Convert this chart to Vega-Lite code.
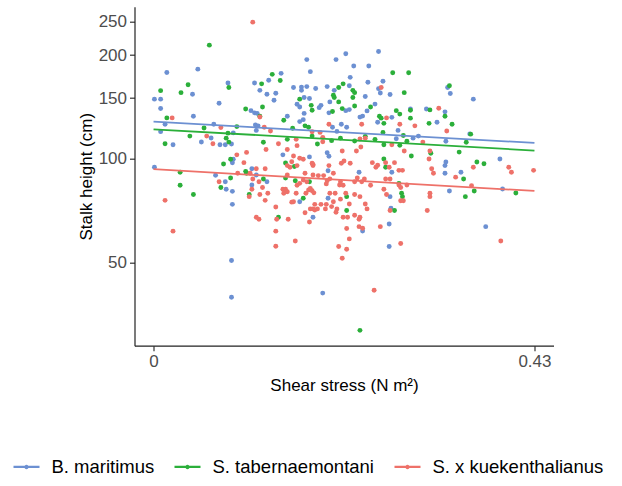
{
"$schema":"https://vega.github.io/schema/vega-lite/v6.json",
"autosize":{"type":"none"},
"padding":{"left":134.5,"top":6.7,"right":68.5,"bottom":140.3},
"width":419,"height":339,
"config":{"view":{"stroke":null},"font":"Liberation Sans",
"axis":{"grid":false,"domainColor":"#222222","domainWidth":1.2,"tickColor":"#333333","tickWidth":1.2,"tickSize":5,"labelColor":"#4D4D4D","labelFontSize":17,"labelFont":"Liberation Sans","titleFont":"Liberation Sans","titleFontSize":17,"titleFontWeight":"normal","titleColor":"black","labelPadding":3}},
"datasets":{
"fit":[
{"species":"B. maritimus","shear":0,"height":128.2},{"species":"B. maritimus","shear":0.43,"height":111.3},
{"species":"S. tabernaemontani","shear":0,"height":121.9},{"species":"S. tabernaemontani","shear":0.43,"height":105.8},
{"species":"S. x kuekenthalianus","shear":0,"height":93.4},{"species":"S. x kuekenthalianus","shear":0.43,"height":80.8}],
"pts":[
{"species":"B. maritimus","shear":0.015,"height":178},{"species":"B. maritimus","shear":0.050,"height":182},{"species":"B. maritimus","shear":0.044,"height":154},{"species":"B. maritimus","shear":0.001,"height":149},{"species":"B. maritimus","shear":0.008,"height":149},{"species":"B. maritimus","shear":0.008,"height":140},{"species":"B. maritimus","shear":0.074,"height":145},{"species":"B. maritimus","shear":0.084,"height":166},{"species":"B. maritimus","shear":0.045,"height":133},{"species":"B. maritimus","shear":0.013,"height":126},
{"species":"B. maritimus","shear":0.008,"height":120},{"species":"B. maritimus","shear":0.022,"height":110},{"species":"B. maritimus","shear":0.054,"height":112},{"species":"B. maritimus","shear":0.065,"height":115},{"species":"B. maritimus","shear":0.068,"height":126},{"species":"B. maritimus","shear":0.075,"height":110},{"species":"B. maritimus","shear":0.081,"height":110},{"species":"B. maritimus","shear":0.088,"height":110.5},{"species":"B. maritimus","shear":0.090,"height":119},{"species":"B. maritimus","shear":0.001,"height":94.6},
{"species":"B. maritimus","shear":0.090,"height":99.8},{"species":"B. maritimus","shear":0.089,"height":97.5},{"species":"B. maritimus","shear":0.111,"height":93.7},{"species":"B. maritimus","shear":0.114,"height":166},{"species":"B. maritimus","shear":0.120,"height":158},{"species":"B. maritimus","shear":0.130,"height":169},{"species":"B. maritimus","shear":0.144,"height":177},{"species":"B. maritimus","shear":0.128,"height":154},{"species":"B. maritimus","shear":0.138,"height":155},{"species":"B. maritimus","shear":0.136,"height":148},
{"species":"B. maritimus","shear":0.110,"height":138},{"species":"B. maritimus","shear":0.114,"height":136},{"species":"B. maritimus","shear":0.117,"height":135.5},{"species":"B. maritimus","shear":0.115,"height":125.5},{"species":"B. maritimus","shear":0.118,"height":124.7},{"species":"B. maritimus","shear":0.116,"height":121},{"species":"B. maritimus","shear":0.151,"height":133},{"species":"B. maritimus","shear":0.146,"height":102.8},{"species":"B. maritimus","shear":0.158,"height":161},{"species":"B. maritimus","shear":0.167,"height":161.5},
{"species":"B. maritimus","shear":0.167,"height":158},{"species":"B. maritimus","shear":0.170,"height":150.7},{"species":"B. maritimus","shear":0.176,"height":149.7},{"species":"B. maritimus","shear":0.173,"height":162},{"species":"B. maritimus","shear":0.183,"height":160},{"species":"B. maritimus","shear":0.173,"height":194},{"species":"B. maritimus","shear":0.177,"height":179},{"species":"B. maritimus","shear":0.162,"height":144},{"species":"B. maritimus","shear":0.165,"height":141.4},{"species":"B. maritimus","shear":0.170,"height":135.5},
{"species":"B. maritimus","shear":0.169,"height":130},{"species":"B. maritimus","shear":0.165,"height":128.3},{"species":"B. maritimus","shear":0.176,"height":101.4},{"species":"B. maritimus","shear":0.196,"height":162},{"species":"B. maritimus","shear":0.189,"height":143},{"species":"B. maritimus","shear":0.187,"height":140.8},{"species":"B. maritimus","shear":0.196,"height":104.2},{"species":"B. maritimus","shear":0.198,"height":101.8},{"species":"B. maritimus","shear":0.206,"height":194},{"species":"B. maritimus","shear":0.204,"height":158},
{"species":"B. maritimus","shear":0.199,"height":146.3},{"species":"B. maritimus","shear":0.198,"height":136},{"species":"B. maritimus","shear":0.202,"height":123.6},{"species":"B. maritimus","shear":0.207,"height":120.2},{"species":"B. maritimus","shear":0.217,"height":201.7},{"species":"B. maritimus","shear":0.254,"height":204.7},{"species":"B. maritimus","shear":0.226,"height":185.8},{"species":"B. maritimus","shear":0.243,"height":185.8},{"species":"B. maritimus","shear":0.222,"height":172.3},{"species":"B. maritimus","shear":0.221,"height":163},
{"species":"B. maritimus","shear":0.242,"height":166.8},{"species":"B. maritimus","shear":0.259,"height":167.9},{"species":"B. maritimus","shear":0.254,"height":159.8},{"species":"B. maritimus","shear":0.256,"height":155.2},{"species":"B. maritimus","shear":0.267,"height":153.7},{"species":"B. maritimus","shear":0.239,"height":151.7},{"species":"B. maritimus","shear":0.250,"height":144.2},{"species":"B. maritimus","shear":0.217,"height":138},{"species":"B. maritimus","shear":0.221,"height":139},{"species":"B. maritimus","shear":0.241,"height":137.8},
{"species":"B. maritimus","shear":0.233,"height":132.2},{"species":"B. maritimus","shear":0.236,"height":133.1},{"species":"B. maritimus","shear":0.253,"height":127.7},{"species":"B. maritimus","shear":0.290,"height":139.6},{"species":"B. maritimus","shear":0.308,"height":139.6},{"species":"B. maritimus","shear":0.329,"height":136.9},{"species":"B. maritimus","shear":0.320,"height":127.7},{"species":"B. maritimus","shear":0.332,"height":161},{"species":"B. maritimus","shear":0.335,"height":154.7},{"species":"B. maritimus","shear":0.361,"height":149},
{"species":"B. maritimus","shear":0.212,"height":126},{"species":"B. maritimus","shear":0.218,"height":123.6},{"species":"B. maritimus","shear":0.276,"height":121},{"species":"B. maritimus","shear":0.274,"height":114.4},{"species":"B. maritimus","shear":0.293,"height":114.9},{"species":"B. maritimus","shear":0.299,"height":116.5},{"species":"B. maritimus","shear":0.330,"height":112.5},{"species":"B. maritimus","shear":0.391,"height":100},{"species":"B. maritimus","shear":0.330,"height":98},{"species":"B. maritimus","shear":0.329,"height":95.7},
{"species":"B. maritimus","shear":0.357,"height":118.2},{"species":"B. maritimus","shear":0.269,"height":132},{"species":"B. maritimus","shear":0.329,"height":90.9},{"species":"B. maritimus","shear":0.347,"height":91.5},{"species":"B. maritimus","shear":0.334,"height":80.8},{"species":"B. maritimus","shear":0.394,"height":81.9},{"species":"B. maritimus","shear":0.375,"height":63.7},{"species":"B. maritimus","shear":0.269,"height":91.5},{"species":"B. maritimus","shear":0.232,"height":91.5},{"species":"B. maritimus","shear":0.267,"height":77.8},
{"species":"B. maritimus","shear":0.268,"height":72},{"species":"B. maritimus","shear":0.236,"height":61.9},{"species":"B. maritimus","shear":0.266,"height":64.8},{"species":"B. maritimus","shear":0.266,"height":55.8},{"species":"B. maritimus","shear":0.070,"height":89.7},{"species":"B. maritimus","shear":0.081,"height":85.9},{"species":"B. maritimus","shear":0.082,"height":81.7},{"species":"B. maritimus","shear":0.089,"height":80.6},{"species":"B. maritimus","shear":0.089,"height":73.9},{"species":"B. maritimus","shear":0.088,"height":50.8},
{"species":"B. maritimus","shear":0.088,"height":39.8},{"species":"B. maritimus","shear":0.116,"height":89.9},{"species":"B. maritimus","shear":0.111,"height":84.1},{"species":"B. maritimus","shear":0.128,"height":85.9},{"species":"B. maritimus","shear":0.149,"height":80.4},{"species":"B. maritimus","shear":0.165,"height":75.2},{"species":"B. maritimus","shear":0.180,"height":67.8},{"species":"B. maritimus","shear":0.197,"height":92.5},{"species":"B. maritimus","shear":0.197,"height":77},{"species":"B. maritimus","shear":0.191,"height":40.9},
{"species":"S. tabernaemontani","shear":0.063,"height":213.6},{"species":"S. tabernaemontani","shear":0.008,"height":157.7},{"species":"S. tabernaemontani","shear":0.039,"height":164},{"species":"S. tabernaemontani","shear":0.031,"height":155.6},{"species":"S. tabernaemontani","shear":0.085,"height":161},{"species":"S. tabernaemontani","shear":0.015,"height":131.5},{"species":"S. tabernaemontani","shear":0.013,"height":110.7},{"species":"S. tabernaemontani","shear":0.041,"height":116.5},{"species":"S. tabernaemontani","shear":0.057,"height":123},{"species":"S. tabernaemontani","shear":0.084,"height":118.8},
{"species":"S. tabernaemontani","shear":0.082,"height":114.9},{"species":"S. tabernaemontani","shear":0.085,"height":111.9},{"species":"S. tabernaemontani","shear":0.094,"height":124.1},{"species":"S. tabernaemontani","shear":0.079,"height":96.7},{"species":"S. tabernaemontani","shear":0.087,"height":99.8},{"species":"S. tabernaemontani","shear":0.122,"height":165},{"species":"S. tabernaemontani","shear":0.134,"height":175.8},{"species":"S. tabernaemontani","shear":0.143,"height":168.7},{"species":"S. tabernaemontani","shear":0.123,"height":141.4},{"species":"S. tabernaemontani","shear":0.104,"height":139.6},
{"species":"S. tabernaemontani","shear":0.124,"height":111.8},{"species":"S. tabernaemontani","shear":0.147,"height":129.4},{"species":"S. tabernaemontani","shear":0.157,"height":122.7},{"species":"S. tabernaemontani","shear":0.151,"height":114},{"species":"S. tabernaemontani","shear":0.165,"height":149},{"species":"S. tabernaemontani","shear":0.178,"height":143},{"species":"S. tabernaemontani","shear":0.179,"height":138.4},{"species":"S. tabernaemontani","shear":0.171,"height":124.7},{"species":"S. tabernaemontani","shear":0.175,"height":123.6},{"species":"S. tabernaemontani","shear":0.179,"height":116.5},
{"species":"S. tabernaemontani","shear":0.185,"height":110.5},{"species":"S. tabernaemontani","shear":0.209,"height":161},{"species":"S. tabernaemontani","shear":0.203,"height":153},{"species":"S. tabernaemontani","shear":0.204,"height":150.7},{"species":"S. tabernaemontani","shear":0.209,"height":146.3},{"species":"S. tabernaemontani","shear":0.202,"height":137.2},{"species":"S. tabernaemontani","shear":0.201,"height":113},{"species":"S. tabernaemontani","shear":0.120,"height":133},{"species":"S. tabernaemontani","shear":0.149,"height":97.4},{"species":"S. tabernaemontani","shear":0.159,"height":95.1},
{"species":"S. tabernaemontani","shear":0.214,"height":165},{"species":"S. tabernaemontani","shear":0.225,"height":158},{"species":"S. tabernaemontani","shear":0.227,"height":155.6},{"species":"S. tabernaemontani","shear":0.225,"height":150.7},{"species":"S. tabernaemontani","shear":0.270,"height":177.7},{"species":"S. tabernaemontani","shear":0.288,"height":177.7},{"species":"S. tabernaemontani","shear":0.283,"height":155.6},{"species":"S. tabernaemontani","shear":0.227,"height":142.3},{"species":"S. tabernaemontani","shear":0.245,"height":141.4},{"species":"S. tabernaemontani","shear":0.213,"height":139.9},
{"species":"S. tabernaemontani","shear":0.255,"height":133},{"species":"S. tabernaemontani","shear":0.257,"height":131.3},{"species":"S. tabernaemontani","shear":0.260,"height":126.8},{"species":"S. tabernaemontani","shear":0.274,"height":138},{"species":"S. tabernaemontani","shear":0.278,"height":134.9},{"species":"S. tabernaemontani","shear":0.290,"height":138.4},{"species":"S. tabernaemontani","shear":0.290,"height":131.3},{"species":"S. tabernaemontani","shear":0.312,"height":138.7},{"species":"S. tabernaemontani","shear":0.329,"height":133},{"species":"S. tabernaemontani","shear":0.311,"height":126.8},
{"species":"S. tabernaemontani","shear":0.337,"height":126},{"species":"S. tabernaemontani","shear":0.334,"height":163},{"species":"S. tabernaemontani","shear":0.211,"height":114.9},{"species":"S. tabernaemontani","shear":0.282,"height":117},{"species":"S. tabernaemontani","shear":0.286,"height":112.5},{"species":"S. tabernaemontani","shear":0.239,"height":116.3},{"species":"S. tabernaemontani","shear":0.250,"height":114},{"species":"S. tabernaemontani","shear":0.259,"height":119.4},{"species":"S. tabernaemontani","shear":0.260,"height":110},{"species":"S. tabernaemontani","shear":0.278,"height":109.5},
{"species":"S. tabernaemontani","shear":0.353,"height":111.8},{"species":"S. tabernaemontani","shear":0.358,"height":118},{"species":"S. tabernaemontani","shear":0.313,"height":103.9},{"species":"S. tabernaemontani","shear":0.291,"height":102},{"species":"S. tabernaemontani","shear":0.345,"height":104.7},{"species":"S. tabernaemontani","shear":0.260,"height":100},{"species":"S. tabernaemontani","shear":0.262,"height":94.6},{"species":"S. tabernaemontani","shear":0.365,"height":98},{"species":"S. tabernaemontani","shear":0.373,"height":96.9},{"species":"S. tabernaemontani","shear":0.227,"height":112.7},
{"species":"S. tabernaemontani","shear":0.350,"height":87.5},{"species":"S. tabernaemontani","shear":0.362,"height":80.8},{"species":"S. tabernaemontani","shear":0.409,"height":79.7},{"species":"S. tabernaemontani","shear":0.352,"height":77.8},{"species":"S. tabernaemontani","shear":0.277,"height":85},{"species":"S. tabernaemontani","shear":0.280,"height":79.6},{"species":"S. tabernaemontani","shear":0.281,"height":77.8},{"species":"S. tabernaemontani","shear":0.272,"height":70.9},{"species":"S. tabernaemontani","shear":0.218,"height":77.8},{"species":"S. tabernaemontani","shear":0.218,"height":70.9},
{"species":"S. tabernaemontani","shear":0.233,"height":31.9},{"species":"S. tabernaemontani","shear":0.030,"height":91.5},{"species":"S. tabernaemontani","shear":0.030,"height":83.9},{"species":"S. tabernaemontani","shear":0.045,"height":78.9},{"species":"S. tabernaemontani","shear":0.076,"height":82.7},{"species":"S. tabernaemontani","shear":0.087,"height":88.1},{"species":"S. tabernaemontani","shear":0.104,"height":92.1},{"species":"S. tabernaemontani","shear":0.105,"height":90.9},{"species":"S. tabernaemontani","shear":0.124,"height":87.5},{"species":"S. tabernaemontani","shear":0.108,"height":78.9},
{"species":"S. tabernaemontani","shear":0.141,"height":67.8},{"species":"S. tabernaemontani","shear":0.149,"height":88.1},{"species":"S. tabernaemontani","shear":0.160,"height":86.5},{"species":"S. tabernaemontani","shear":0.169,"height":77},{"species":"S. tabernaemontani","shear":0.176,"height":85.9},
{"species":"S. x kuekenthalianus","shear":0.112,"height":249},{"species":"S. x kuekenthalianus","shear":0.021,"height":131.5},{"species":"S. x kuekenthalianus","shear":0.060,"height":116.5},{"species":"S. x kuekenthalianus","shear":0.067,"height":110.7},{"species":"S. x kuekenthalianus","shear":0.076,"height":123.3},{"species":"S. x kuekenthalianus","shear":0.094,"height":102.8},{"species":"S. x kuekenthalianus","shear":0.105,"height":104.5},{"species":"S. x kuekenthalianus","shear":0.102,"height":97.6},{"species":"S. x kuekenthalianus","shear":0.116,"height":93.7},{"species":"S. x kuekenthalianus","shear":0.126,"height":93.7},
{"species":"S. x kuekenthalianus","shear":0.120,"height":132.3},{"species":"S. x kuekenthalianus","shear":0.125,"height":123.6},{"species":"S. x kuekenthalianus","shear":0.127,"height":106.5},{"species":"S. x kuekenthalianus","shear":0.141,"height":110.7},{"species":"S. x kuekenthalianus","shear":0.151,"height":106.5},{"species":"S. x kuekenthalianus","shear":0.158,"height":102},{"species":"S. x kuekenthalianus","shear":0.162,"height":109.3},{"species":"S. x kuekenthalianus","shear":0.165,"height":100.5},{"species":"S. x kuekenthalianus","shear":0.161,"height":114},{"species":"S. x kuekenthalianus","shear":0.179,"height":119.9},
{"species":"S. x kuekenthalianus","shear":0.188,"height":119.4},{"species":"S. x kuekenthalianus","shear":0.191,"height":115.5},{"species":"S. x kuekenthalianus","shear":0.191,"height":112.2},{"species":"S. x kuekenthalianus","shear":0.169,"height":99.8},{"species":"S. x kuekenthalianus","shear":0.180,"height":96.5},{"species":"S. x kuekenthalianus","shear":0.198,"height":95.7},{"species":"S. x kuekenthalianus","shear":0.198,"height":126},{"species":"S. x kuekenthalianus","shear":0.132,"height":120.5},{"species":"S. x kuekenthalianus","shear":0.151,"height":95.7},{"species":"S. x kuekenthalianus","shear":0.154,"height":94.6},
{"species":"S. x kuekenthalianus","shear":0.162,"height":95.7},{"species":"S. x kuekenthalianus","shear":0.156,"height":98.2},{"species":"S. x kuekenthalianus","shear":0.109,"height":90.9},{"species":"S. x kuekenthalianus","shear":0.257,"height":161},{"species":"S. x kuekenthalianus","shear":0.263,"height":131.5},{"species":"S. x kuekenthalianus","shear":0.278,"height":126},{"species":"S. x kuekenthalianus","shear":0.295,"height":124.7},{"species":"S. x kuekenthalianus","shear":0.322,"height":140.2},{"species":"S. x kuekenthalianus","shear":0.331,"height":120.5},{"species":"S. x kuekenthalianus","shear":0.233,"height":114.2},
{"species":"S. x kuekenthalianus","shear":0.239,"height":114.9},{"species":"S. x kuekenthalianus","shear":0.269,"height":110},{"species":"S. x kuekenthalianus","shear":0.304,"height":111.9},{"species":"S. x kuekenthalianus","shear":0.213,"height":105.5},{"species":"S. x kuekenthalianus","shear":0.229,"height":105.5},{"species":"S. x kuekenthalianus","shear":0.234,"height":108.3},{"species":"S. x kuekenthalianus","shear":0.283,"height":105.5},{"species":"S. x kuekenthalianus","shear":0.312,"height":105.5},{"species":"S. x kuekenthalianus","shear":0.311,"height":100},{"species":"S. x kuekenthalianus","shear":0.212,"height":97.2},
{"species":"S. x kuekenthalianus","shear":0.215,"height":98.7},{"species":"S. x kuekenthalianus","shear":0.222,"height":97.2},{"species":"S. x kuekenthalianus","shear":0.247,"height":97.6},{"species":"S. x kuekenthalianus","shear":0.251,"height":94.6},{"species":"S. x kuekenthalianus","shear":0.253,"height":95.9},{"species":"S. x kuekenthalianus","shear":0.262,"height":97.6},{"species":"S. x kuekenthalianus","shear":0.272,"height":97.6},{"species":"S. x kuekenthalianus","shear":0.266,"height":94.6},{"species":"S. x kuekenthalianus","shear":0.361,"height":94.6},{"species":"S. x kuekenthalianus","shear":0.401,"height":94.6},
{"species":"S. x kuekenthalianus","shear":0.314,"height":93.7},{"species":"S. x kuekenthalianus","shear":0.235,"height":126},{"species":"S. x kuekenthalianus","shear":0.404,"height":91.5},{"species":"S. x kuekenthalianus","shear":0.429,"height":92.7},{"species":"S. x kuekenthalianus","shear":0.316,"height":90.9},{"species":"S. x kuekenthalianus","shear":0.341,"height":88.6},{"species":"S. x kuekenthalianus","shear":0.359,"height":83.7},{"species":"S. x kuekenthalianus","shear":0.312,"height":79.6},{"species":"S. x kuekenthalianus","shear":0.312,"height":77.8},{"species":"S. x kuekenthalianus","shear":0.392,"height":57.9},
{"species":"S. x kuekenthalianus","shear":0.277,"height":92.7},{"species":"S. x kuekenthalianus","shear":0.281,"height":92.7},{"species":"S. x kuekenthalianus","shear":0.230,"height":88.1},{"species":"S. x kuekenthalianus","shear":0.238,"height":87.5},{"species":"S. x kuekenthalianus","shear":0.235,"height":85.9},{"species":"S. x kuekenthalianus","shear":0.227,"height":85.9},{"species":"S. x kuekenthalianus","shear":0.211,"height":85.9},{"species":"S. x kuekenthalianus","shear":0.210,"height":84.1},{"species":"S. x kuekenthalianus","shear":0.214,"height":83.9},{"species":"S. x kuekenthalianus","shear":0.245,"height":83.9},
{"species":"S. x kuekenthalianus","shear":0.262,"height":87.5},{"species":"S. x kuekenthalianus","shear":0.267,"height":87.5},{"species":"S. x kuekenthalianus","shear":0.260,"height":81.7},{"species":"S. x kuekenthalianus","shear":0.277,"height":84.1},{"species":"S. x kuekenthalianus","shear":0.286,"height":84.1},{"species":"S. x kuekenthalianus","shear":0.279,"height":82.7},{"species":"S. x kuekenthalianus","shear":0.279,"height":75.7},{"species":"S. x kuekenthalianus","shear":0.282,"height":75.7},{"species":"S. x kuekenthalianus","shear":0.263,"height":78.9},{"species":"S. x kuekenthalianus","shear":0.267,"height":70.9},
{"species":"S. x kuekenthalianus","shear":0.217,"height":79.6},{"species":"S. x kuekenthalianus","shear":0.211,"height":76.5},{"species":"S. x kuekenthalianus","shear":0.221,"height":74.1},{"species":"S. x kuekenthalianus","shear":0.227,"height":78.9},{"species":"S. x kuekenthalianus","shear":0.233,"height":77.8},{"species":"S. x kuekenthalianus","shear":0.239,"height":74.1},{"species":"S. x kuekenthalianus","shear":0.241,"height":71.7},{"species":"S. x kuekenthalianus","shear":0.214,"height":67.8},{"species":"S. x kuekenthalianus","shear":0.219,"height":67.8},{"species":"S. x kuekenthalianus","shear":0.227,"height":68.7},
{"species":"S. x kuekenthalianus","shear":0.233,"height":67.8},{"species":"S. x kuekenthalianus","shear":0.232,"height":66.9},{"species":"S. x kuekenthalianus","shear":0.232,"height":63.7},{"species":"S. x kuekenthalianus","shear":0.236,"height":63},{"species":"S. x kuekenthalianus","shear":0.256,"height":63.7},{"species":"S. x kuekenthalianus","shear":0.218,"height":62.9},{"species":"S. x kuekenthalianus","shear":0.221,"height":58.7},{"species":"S. x kuekenthalianus","shear":0.218,"height":54.8},{"species":"S. x kuekenthalianus","shear":0.213,"height":51.6},{"species":"S. x kuekenthalianus","shear":0.279,"height":56.9},
{"species":"S. x kuekenthalianus","shear":0.309,"height":70.9},{"species":"S. x kuekenthalianus","shear":0.249,"height":41.7},{"species":"S. x kuekenthalianus","shear":0.013,"height":75.9},{"species":"S. x kuekenthalianus","shear":0.022,"height":61.8},{"species":"S. x kuekenthalianus","shear":0.074,"height":85.9},{"species":"S. x kuekenthalianus","shear":0.095,"height":90.9},{"species":"S. x kuekenthalianus","shear":0.112,"height":87.5},{"species":"S. x kuekenthalianus","shear":0.119,"height":85.9},{"species":"S. x kuekenthalianus","shear":0.111,"height":81.7},{"species":"S. x kuekenthalianus","shear":0.108,"height":77.8},
{"species":"S. x kuekenthalianus","shear":0.123,"height":82.7},{"species":"S. x kuekenthalianus","shear":0.120,"height":78.9},{"species":"S. x kuekenthalianus","shear":0.129,"height":79.6},{"species":"S. x kuekenthalianus","shear":0.126,"height":75.9},{"species":"S. x kuekenthalianus","shear":0.138,"height":72.6},{"species":"S. x kuekenthalianus","shear":0.116,"height":67.8},{"species":"S. x kuekenthalianus","shear":0.119,"height":66.9},{"species":"S. x kuekenthalianus","shear":0.139,"height":66.9},{"species":"S. x kuekenthalianus","shear":0.152,"height":66.9},{"species":"S. x kuekenthalianus","shear":0.138,"height":61.8},
{"species":"S. x kuekenthalianus","shear":0.138,"height":55.9},{"species":"S. x kuekenthalianus","shear":0.160,"height":57.9},{"species":"S. x kuekenthalianus","shear":0.151,"height":89.9},{"species":"S. x kuekenthalianus","shear":0.146,"height":81.7},{"species":"S. x kuekenthalianus","shear":0.149,"height":81.7},{"species":"S. x kuekenthalianus","shear":0.151,"height":80.4},{"species":"S. x kuekenthalianus","shear":0.147,"height":79.6},{"species":"S. x kuekenthalianus","shear":0.156,"height":75},{"species":"S. x kuekenthalianus","shear":0.158,"height":75.2},{"species":"S. x kuekenthalianus","shear":0.161,"height":79.6},
{"species":"S. x kuekenthalianus","shear":0.162,"height":83.9},{"species":"S. x kuekenthalianus","shear":0.165,"height":85},{"species":"S. x kuekenthalianus","shear":0.171,"height":90.9},{"species":"S. x kuekenthalianus","shear":0.169,"height":86.9},{"species":"S. x kuekenthalianus","shear":0.173,"height":85.9},{"species":"S. x kuekenthalianus","shear":0.175,"height":81.3},{"species":"S. x kuekenthalianus","shear":0.179,"height":80.9},{"species":"S. x kuekenthalianus","shear":0.177,"height":82.2},{"species":"S. x kuekenthalianus","shear":0.181,"height":79.8},{"species":"S. x kuekenthalianus","shear":0.172,"height":79.6},
{"species":"S. x kuekenthalianus","shear":0.180,"height":89.9},{"species":"S. x kuekenthalianus","shear":0.180,"height":95.7},{"species":"S. x kuekenthalianus","shear":0.179,"height":97.2},{"species":"S. x kuekenthalianus","shear":0.186,"height":89.5},{"species":"S. x kuekenthalianus","shear":0.192,"height":89.5},{"species":"S. x kuekenthalianus","shear":0.196,"height":86.5},{"species":"S. x kuekenthalianus","shear":0.199,"height":87.6},{"species":"S. x kuekenthalianus","shear":0.203,"height":90.9},{"species":"S. x kuekenthalianus","shear":0.195,"height":84.7},{"species":"S. x kuekenthalianus","shear":0.177,"height":71.7},
{"species":"S. x kuekenthalianus","shear":0.180,"height":71.7},{"species":"S. x kuekenthalianus","shear":0.182,"height":71.2},{"species":"S. x kuekenthalianus","shear":0.185,"height":71.7},{"species":"S. x kuekenthalianus","shear":0.171,"height":69.9},{"species":"S. x kuekenthalianus","shear":0.176,"height":65.7},{"species":"S. x kuekenthalianus","shear":0.182,"height":73.9},{"species":"S. x kuekenthalianus","shear":0.189,"height":73.9},{"species":"S. x kuekenthalianus","shear":0.195,"height":73.9},{"species":"S. x kuekenthalianus","shear":0.194,"height":71.7},{"species":"S. x kuekenthalianus","shear":0.199,"height":79.6},
{"species":"S. x kuekenthalianus","shear":0.205,"height":79.6},{"species":"S. x kuekenthalianus","shear":0.203,"height":75.2},{"species":"S. x kuekenthalianus","shear":0.201,"height":72.8},{"species":"S. x kuekenthalianus","shear":0.207,"height":71.7},{"species":"S. x kuekenthalianus","shear":0.206,"height":70.1},{"species":"S. x kuekenthalianus","shear":0.209,"height":55.8}
]},
"encoding":{
"x":{"field":"shear","type":"quantitative","scale":{"domain":[-0.0215,0.4515],"nice":false,"zero":false},"axis":{"values":[0,0.43],"format":".2~f","title":"Shear stress (N m²)","titlePadding":8}},
"y":{"field":"height","type":"quantitative","scale":{"type":"log","domain":[28.8,276],"nice":false,"zero":false},"axis":{"values":[50,100,150,200,250],"format":"d","title":"Stalk height (cm)","titlePadding":3}},
"color":{"field":"species","type":"nominal","scale":{"domain":["B. maritimus","S. tabernaemontani","S. x kuekenthalianus"],"range":["#6C90D2","#2BAF3A","#EE7169"]},
"legend":{"orient":"none","legendX":-121,"legendY":447,"direction":"horizontal","title":null,"symbolType":"M-1,-0.09H1V0.09H-1Z M0.17,0A0.17,0.17,0,1,1,-0.17,0A0.17,0.17,0,1,1,0.17,0Z","symbolSize":676,"symbolStrokeWidth":0,"labelFontSize":18.5,"labelFont":"Liberation Sans","labelColor":"black","labelLimit":0,"labelOffset":12,"columnPadding":20,"encode":{"symbols":{"update":{"fill":{"scale":"color","field":"value"},"stroke":{"value":"transparent"},"opacity":{"value":1}}}}}}
},
"layer":[
{"data":{"name":"pts"},"mark":{"type":"circle","size":24,"opacity":1}},
{"data":{"name":"fit"},"mark":{"type":"line","strokeWidth":1.8}}
]
}
